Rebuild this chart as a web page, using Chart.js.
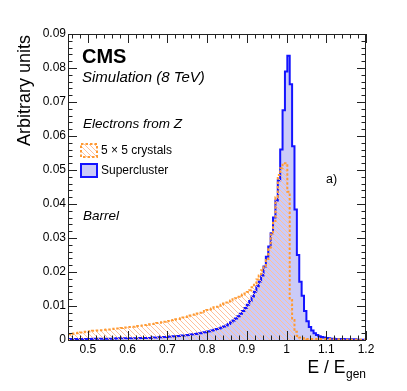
<!DOCTYPE html>
<html>
<head>
<meta charset="utf-8">
<script src="https://cdn.jsdelivr.net/npm/chart.js@4.4.1/dist/chart.umd.min.js"></script>
<style>
  html, body { margin: 0; padding: 0; background: #fff; }
  #wrap { width: 407px; height: 391px; }
</style>
</head>
<body>
<div id="wrap"><canvas id="chart" width="407" height="391"></canvas></div>
<script>
// ── Histogram binning (E / E_gen) ──────────────────────────────────────────
const BIN_LO = 0.45;
const BIN_W  = 0.006;   // 125 bins up to 1.2

// ── Series: 5x5 crystals (orange, hatched) ─────────────────────────────────
const crystals5x5 = [
  0.0017, 0.0018, 0.0019, 0.0020, 0.0021, 0.0022, 0.0023, 0.0024, 0.0025, 0.0026,
  0.0027, 0.0027, 0.0028, 0.0029, 0.0029, 0.0030, 0.0031, 0.0031, 0.0032, 0.0033,
  0.0034, 0.0034, 0.0035, 0.0036, 0.0037, 0.0038, 0.0038, 0.0039, 0.0040, 0.0041,
  0.0042, 0.0043, 0.0044, 0.0045, 0.0046, 0.0047, 0.0048, 0.0050, 0.0051, 0.0052,
  0.0054, 0.0055, 0.0056, 0.0058, 0.0059, 0.0061, 0.0062, 0.0064, 0.0066, 0.0068,
  0.0070, 0.0072, 0.0074, 0.0076, 0.0078, 0.0080, 0.0083, 0.0085, 0.0088, 0.0090,
  0.0093, 0.0096, 0.0098, 0.0101, 0.0104, 0.0107, 0.0110, 0.0113, 0.0116, 0.0120,
  0.0123, 0.0127, 0.0131, 0.0134, 0.0137, 0.0141, 0.0146, 0.0155, 0.0166, 0.0178,
  0.0190, 0.0205, 0.0218, 0.0235, 0.0268, 0.0310, 0.0350, 0.0420, 0.0485, 0.0505,
  0.0520, 0.0520, 0.0436, 0.0118, 0.0059, 0.0024, 0.0012, 0.0007, 0.0005, 0.0004,
  0.0003, 0.0003, 0.0003, 0.0003, 0.0003, 0.0003, 0.0003, 0.0003, 0.0003, 0.0003,
  0.0002, 0.0002, 0.0002, 0.0002, 0.0002, 0.0001, 0.0001, 0.0001, 0.0001, 0.0001,
  0.0001, 0.0001, 0.0001, 0.0001, 0.0001
];

// ── Series: Supercluster (blue, filled) ────────────────────────────────────
const supercluster = [
  0.0003, 0.0003, 0.0003, 0.0003, 0.0003, 0.0003, 0.0003, 0.0003, 0.0003, 0.0003,
  0.0004, 0.0004, 0.0004, 0.0004, 0.0004, 0.0004, 0.0004, 0.0004, 0.0004, 0.0004,
  0.0005, 0.0005, 0.0005, 0.0005, 0.0005, 0.0005, 0.0005, 0.0005, 0.0005, 0.0005,
  0.0006, 0.0006, 0.0006, 0.0006, 0.0006, 0.0007, 0.0007, 0.0007, 0.0008, 0.0008,
  0.0009, 0.0009, 0.0010, 0.0010, 0.0011, 0.0011, 0.0012, 0.0013, 0.0013, 0.0014,
  0.0015, 0.0016, 0.0017, 0.0018, 0.0019, 0.0020, 0.0022, 0.0023, 0.0025, 0.0026,
  0.0028, 0.0030, 0.0032, 0.0034, 0.0037, 0.0040, 0.0043, 0.0047, 0.0052, 0.0057,
  0.0063, 0.0070, 0.0077, 0.0085, 0.0094, 0.0104, 0.0115, 0.0128, 0.0142, 0.0158,
  0.0172, 0.0190, 0.0216, 0.0245, 0.0275, 0.0314, 0.0360, 0.0410, 0.0470, 0.0560,
  0.0676, 0.0790, 0.0836, 0.0752, 0.0570, 0.0384, 0.0250, 0.0171, 0.0130, 0.0085,
  0.0055, 0.0038, 0.0028, 0.0020, 0.0015, 0.0011, 0.0009, 0.0007, 0.0006, 0.0005,
  0.0004, 0.0004, 0.0003, 0.0003, 0.0003, 0.0003, 0.0002, 0.0002, 0.0002, 0.0002,
  0.0002, 0.0001, 0.0001, 0.0001, 0.0001
];

// ── Axis ticks ─────────────────────────────────────────────────────────────
const X_TICKS       = [0.5, 0.6, 0.7, 0.8, 0.9, 1.0, 1.1, 1.2];
const X_TICK_LABELS = ['0.5', '0.6', '0.7', '0.8', '0.9', '1', '1.1', '1.2'];
const Y_TICKS       = [0, 0.01, 0.02, 0.03, 0.04, 0.05, 0.06, 0.07, 0.08, 0.09];
const Y_TICK_LABELS = ['0', '0.01', '0.02', '0.03', '0.04', '0.05', '0.06', '0.07', '0.08', '0.09'];

const FONT   = '"Liberation Sans", Arial, Helvetica, sans-serif';
const BLUE   = '#1414ff';
const BLUE_FILL = '#cbcbf8';
const ORANGE = '#ff9a33';

// step histogram points: one per lower bin edge + closing edge
function histPoints(vals) {
  const pts = vals.map((v, i) => ({ x: BIN_LO + i * BIN_W, y: v }));
  pts.push({ x: BIN_LO + vals.length * BIN_W, y: vals[vals.length - 1] });
  return pts;
}

function makeHatch() {
  const c = document.createElement('canvas');
  c.width = 5; c.height = 5;
  const g = c.getContext('2d');
  g.strokeStyle = '#ffc09a';
  g.lineWidth = 1;
  g.beginPath();
  g.moveTo(-1, -1); g.lineTo(6, 6);
  g.moveTo(-1, 4);  g.lineTo(1, 6);
  g.moveTo(4, -1);  g.lineTo(6, 1);
  g.stroke();
  return g.createPattern(c, 'repeat');
}
const hatch = makeHatch();

// ── ROOT-style frame with inward ticks on all four sides ───────────────────
const rootFrame = {
  id: 'rootFrame',
  afterDatasetsDraw(chart) {
    const { ctx, chartArea: a, scales: { x, y } } = chart;
    const MAJ = 9, MIN = 4.5;
    ctx.save();
    ctx.strokeStyle = '#222';
    ctx.lineWidth = 1;
    ctx.beginPath();
    // x ticks (bottom + top)
    for (let k = 0; k <= 37; k++) {
      const v = 0.46 + k * 0.02;
      const px = Math.round(x.getPixelForValue(v)) + 0.5;
      const major = Math.abs((v * 10) - Math.round(v * 10)) < 1e-6;
      const len = major ? MAJ : MIN;
      ctx.moveTo(px, a.bottom); ctx.lineTo(px, a.bottom - len);
      ctx.moveTo(px, a.top);    ctx.lineTo(px, a.top + len);
    }
    // y ticks (left + right)
    for (let k = 0; k <= 45; k++) {
      const py = Math.round(y.getPixelForValue(k * 0.002)) + 0.5;
      const len = (k % 5 === 0) ? MAJ : MIN;
      ctx.moveTo(a.left, py);  ctx.lineTo(a.left + len, py);
      ctx.moveTo(a.right, py); ctx.lineTo(a.right - len, py);
    }
    ctx.stroke();
    ctx.strokeRect(Math.round(a.left) + 0.5, Math.round(a.top) + 0.5,
                   Math.round(a.right - a.left) - 1, Math.round(a.bottom - a.top));
    ctx.restore();
  }
};

// ── Labels, legend and axis titles ─────────────────────────────────────────
const annotations = {
  id: 'annotations',
  afterDraw(chart) {
    const { ctx, chartArea: a } = chart;
    ctx.save();
    ctx.fillStyle = '#000';
    ctx.textAlign = 'left';
    ctx.textBaseline = 'alphabetic';

    ctx.font = `bold 20px ${FONT}`;
    ctx.fillText('CMS', 82, 63);
    ctx.font = `italic 15px ${FONT}`;
    ctx.fillText('Simulation (8 TeV)', 82, 82);
    ctx.font = `italic 13.5px ${FONT}`;
    ctx.fillText('Electrons from Z', 83, 128);
    ctx.fillText('Barrel', 83, 220);

    // legend boxes
    ctx.fillStyle = hatch;
    ctx.fillRect(81, 144, 16, 13);
    ctx.strokeStyle = ORANGE;
    ctx.lineWidth = 2;
    ctx.setLineDash([2.5, 2]);
    ctx.strokeRect(81, 144, 16, 13);
    ctx.setLineDash([]);
    ctx.fillStyle = BLUE_FILL;
    ctx.fillRect(81, 164, 16, 13);
    ctx.strokeStyle = BLUE;
    ctx.strokeRect(81, 164, 16, 13);

    ctx.fillStyle = '#000';
    ctx.font = `12px ${FONT}`;
    ctx.textBaseline = 'middle';
    ctx.fillText('5 \u00d7 5 crystals', 101, 150.5);
    ctx.fillText('Supercluster', 101, 170.5);
    ctx.font = `12.5px ${FONT}`;
    ctx.fillText('a)', 326, 180);

    // y title
    ctx.save();
    ctx.translate(25.5, a.top + 1);
    ctx.rotate(-Math.PI / 2);
    ctx.textAlign = 'right';
    ctx.font = `18px ${FONT}`;
    ctx.fillText('Arbitrary units', 0, 0);
    ctx.restore();

    // x title with subscript
    ctx.textBaseline = 'alphabetic';
    ctx.textAlign = 'left';
    ctx.font = `12px ${FONT}`;
    const wSub = ctx.measureText('gen').width;
    ctx.fillText('gen', a.right - wSub, 378);
    ctx.font = `17.5px ${FONT}`;
    ctx.textAlign = 'right';
    ctx.fillText('E / E', a.right - wSub - 0.5, 373);
    ctx.restore();
  }
};

new Chart(document.getElementById('chart'), {
  type: 'line',
  data: {
    datasets: [
      {
        label: '5 \u00d7 5 crystals',
        data: histPoints(crystals5x5),
        stepped: 'before',
        borderColor: ORANGE,
        borderWidth: 2,
        borderDash: [2.5, 2],
        backgroundColor: hatch,
        fill: 'origin',
        pointRadius: 0,
        tension: 0
      },
      {
        label: 'Supercluster',
        data: histPoints(supercluster),
        stepped: 'before',
        borderColor: BLUE,
        borderWidth: 2,
        backgroundColor: BLUE_FILL,
        fill: 'origin',
        pointRadius: 0,
        tension: 0
      }
    ]
  },
  options: {
    responsive: false,
    animation: false,
    events: [],
    layout: { padding: { left: 0, right: 41, top: 34, bottom: 0 } },
    plugins: { legend: { display: false }, tooltip: { enabled: false } },
    scales: {
      x: {
        type: 'linear',
        min: 0.45, max: 1.2,
        grid: { display: false, drawTicks: false },
        border: { display: false },
        afterBuildTicks: s => { s.ticks = X_TICKS.map(v => ({ value: v })); },
        afterFit: s => { s.height = 51; },
        ticks: {
          autoSkip: false, maxRotation: 0, padding: 2,
          color: '#000', font: { family: FONT, size: 12 },
          callback: (v, i) => X_TICK_LABELS[i]
        }
      },
      y: {
        type: 'linear',
        min: 0, max: 0.09,
        grid: { display: false, drawTicks: false },
        border: { display: false },
        afterBuildTicks: s => { s.ticks = Y_TICKS.map(v => ({ value: v })); },
        afterFit: s => { s.width = 68; },
        ticks: {
          autoSkip: false, padding: 2,
          color: '#000', font: { family: FONT, size: 12 },
          callback: (v, i) => Y_TICK_LABELS[i]
        }
      }
    }
  },
  plugins: [rootFrame, annotations]
});
</script>
</body>
</html>
